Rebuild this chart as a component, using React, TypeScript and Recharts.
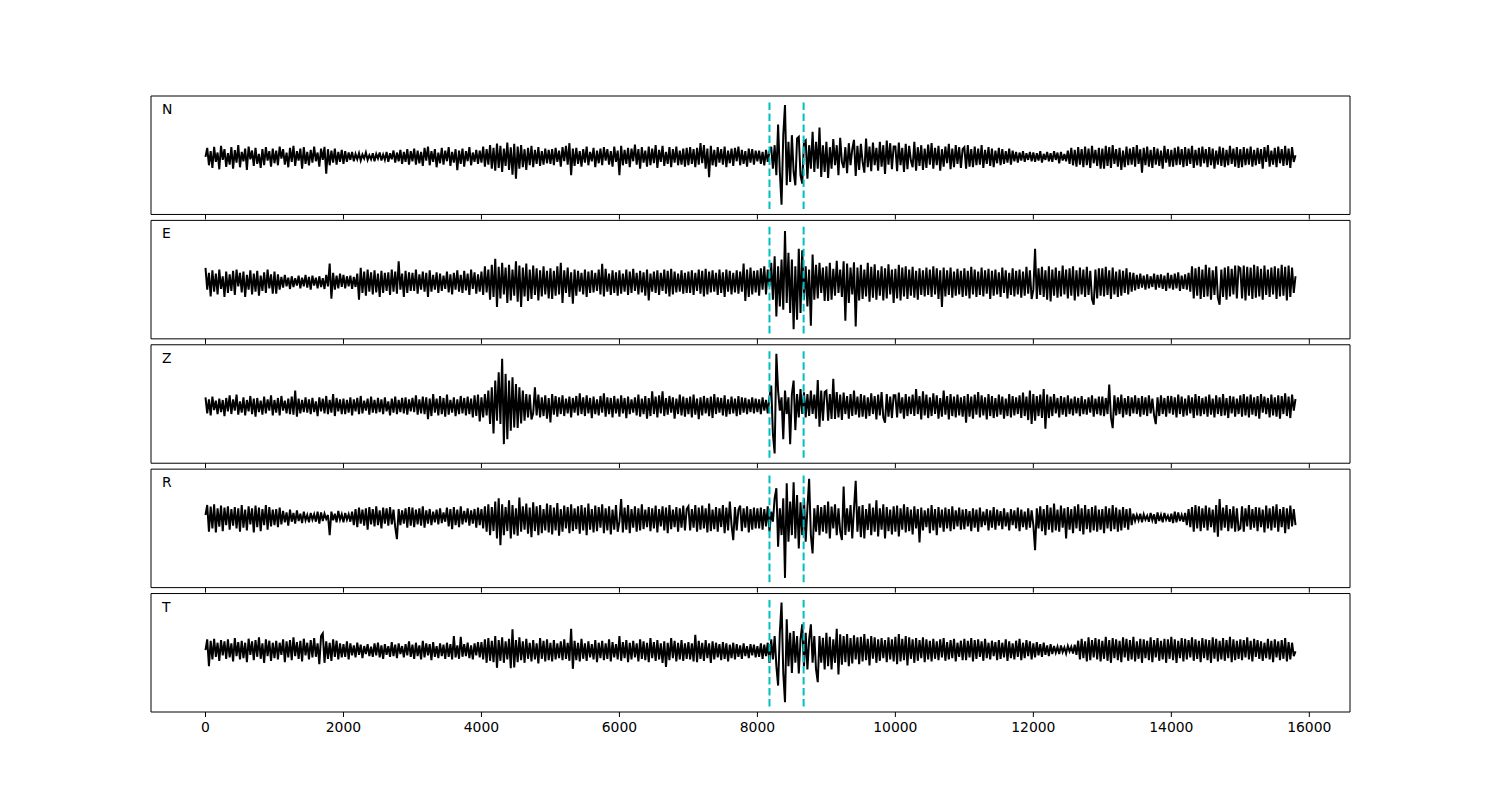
import React from 'react';
import { LineChart, Line, XAxis, YAxis, ReferenceLine, ReferenceArea } from 'recharts';

// sample spacing of the traces (time axis units)
const SAMPLE_STEP = 25;

const N_TRACE = [
  -5, 22, -30, 12, -38, 25, -20, 8, -42, 28, -14, 18, -35, 6, -28, 24, -40, 15, -22, 30, -36, 10, -18, 20, -44, 26, -12, 14, -32, 22, -26, 4, -38, 18, -30, 24, -16, 12, -34, 20,
  -24, 14, -30, 26, -10, 18, -28, 8, -36, 22, -20, 28, -32, 12, -16, 20, -40, 24, -26, 10, -30, 16, -22, 26, -18, 8, -34, 20, -14, 25, -55, 18, -30, 14, -22, 20, -28, 10, -20, 16,
  -26, 12, -20, 8, -14, 10, -18, 4, -12, 6, -16, 2, -10, 8, -14, 0, -12, 6, -18, 4, -10, 8, -16, 2, -14, 10, -20, 6, -12, 14, -22, 8, -18, 16, -26, 10, -20, 18, -28, 12,
  -18, 20, -28, 14, -24, 10, -32, 22, -16, 26, -30, 12, -20, 18, -36, 8, -24, 22, -28, 14, -18, 24, -32, 10, -22, 18, -45, 14, -26, 20, -34, 12, -18, 24, -30, 8, -20, 16, -26, 14,
  -22, 26, -34, 18, -28, 30, -40, 22, -46, 35, -38, 28, -50, 20, -32, 38, -44, 24, -58, 34, -70, 26, -40, 30, -36, 18, -44, 22, -30, 28, -36, 16, -26, 24, -32, 12, -28, 20, -24, 16,
  -26, 18, -30, 22, -20, 14, -34, 24, -18, 28, -28, 36, -60, 20, -32, 22, -26, 12, -34, 18, -22, 26, -30, 10, -18, 22, -36, 14, -24, 20, -30, 24, -16, 18, -28, 12, -34, 26, -20, 14,
  -60, 28, -30, 16, -26, 22, -36, 20, -18, 32, -28, 18, -40, 24, -22, 14, -34, 26, -30, 20, -24, 30, -38, 16, -20, 28, -32, 10, -26, 24, -36, 18, -22, 26, -30, 14, -28, 20, -34, 22,
  -30, 24, -26, 18, -36, 22, -28, 36, -24, 30, -40, 20, -66, 28, -30, 16, -34, 24, -22, 18, -28, 26, -36, 14, -24, 20, -32, 22, -18, 26, -30, 16, -26, 12, -34, 20, -22, 18, -28, 14,
  -18, 14, -26, 10, -30, 16, -20, 12, 25, -40, 30, -60, 92, -50, -148, 60, 150, -90, 40, -80, 60, -50, -90, 50, 55, -60, -85, 40, 45, -70, 30, -40, 70, -50, 40, -40, 83, -65, 30, -50,
  40, -68, 24, -40, 48, -30, 30, -60, 52, -20, -38, 24, -54, 36, -30, 18, 46, -62, 28, -44, 34, -20, -52, 50, -36, 26, -48, 38, -30, 22, -46, 40, -34, 30, -56, 44, -28, 36, -42, 26,
  26, -48, 38, -30, 22, -50, 34, -42, 28, -16, -36, 40, -46, 24, -32, 30, -44, 20, -38, 32, -28, 36, -40, 22, -30, 28, -46, 18, -34, 26, -24, 34, -42, 20, -36, 30, -26, 24, -38, 18,
  24, -40, 30, -34, 18, -36, 26, -30, 20, -28, 30, -38, 16, -26, 24, -32, 20, -36, 14, -24, 22, -30, 18, -26, 12, -22, 20, -28, 14, -18, 10, -22, 8, -16, 12, -20, 6, -14, 10, -18,
  8, -20, 6, -16, 12, -22, 4, -14, 10, -18, 6, -20, 12, -14, 8, -24, 10, -16, 4, -18, 14, -26, 22, -30, 16, -34, 24, -28, 18, -36, 26, -30, 20, -38, 28, -24, 16, -32, 22, -40,
  20, -40, 28, -32, 24, -38, 30, -26, 18, -34, 22, -44, 14, -36, 26, -30, 20, -28, 24, -34, 30, -26, 18, -52, 22, -30, 26, -34, 16, -38, 24, -28, 20, -32, 14, -40, 28, -22, 18, -34,
  16, -34, 22, -30, 26, -28, 18, -36, 24, -32, 20, -26, 28, -38, 16, -30, 22, -34, 26, -24, 18, -36, 24, -30, 20, -40, 14, -28, 26, -32, 22, -36, 16, -30, 28, -26, 20, -34, 24, -38,
  18, -36, 24, -30, 20, -28, 26, -34, 16, -30, 22, -26, 18, -40, 24, -20, 30, -34, 14, -28, 22, -36, 26, -24, 18, -32, 28, -30, 20, -38, 24, -20, 0,
];

const E_TRACE = [
  35, -30, 20, -50, 28, -36, 18, -44, 30, -28, 10, -52, 24, -40, 16, -34, 26, -46, 30, -20, 20, -38, 24, -52, 14, -30, 28, -44, 18, -36, 26, -48, 12, -34, 22, -40, 30, -26, 16, -42,
  24, -42, 16, -30, 8, -24, 14, -20, 6, -28, 10, -22, 4, -18, 12, -26, 6, -20, 14, -24, 8, -30, 12, -18, 6, -26, 10, -22, 4, -28, 14, -20, 48, -57, 20, -30, 12, -26, 18, -22,
  14, -26, 10, -20, 12, -28, 8, -22, 18, -60, 35, -40, 24, -48, 30, -36, 22, -44, 28, -38, 18, -52, 26, -40, 20, -34, 22, -46, 30, -36, 24, -42, 55, -30, 18, -52, 26, -40, 22, -34,
  20, -34, 30, -42, 16, -30, 24, -36, 20, -52, 28, -36, 14, -30, 22, -40, 18, -34, 12, -28, 24, -38, 16, -44, 20, -30, 28, -36, 14, -40, 26, -32, 18, -46, 30, -28, 22, -42, 16, -36,
  24, -46, 40, -38, 30, -60, 44, -52, 62, -82, 38, -56, 50, -44, 36, -70, 44, -62, 30, -48, 55, -66, 42, -82, 36, -50, 48, -64, 30, -58, 42, -46, 34, -62, 28, -50, 40, -44, 26, -56,
  34, -58, 26, -48, 40, -44, 50, -70, 28, -40, 36, -52, 22, -72, 30, -48, 26, -36, 20, -44, 30, -52, 24, -40, 28, -38, 20, -34, 30, -44, 47, -50, 32, -36, 18, -46, 28, -40, 22, -48,
  28, -42, 18, -36, 30, -46, 24, -40, 32, -34, 20, -44, 26, -38, 22, -48, 30, -62, 18, -36, 24, -40, 28, -46, 20, -34, 30, -42, 26, -50, 32, -44, 24, -38, 18, -36, 28, -42, 20, -40,
  24, -40, 28, -46, 20, -34, 30, -42, 26, -50, 32, -44, 24, -38, 28, -36, 20, -46, 30, -40, 22, -52, 30, -36, 26, -44, 20, -38, 28, -42, 24, -36, 48, -64, 30, -52, 36, -44, 26, -38,
  28, -48, 34, -30, 40, -44, 30, -20, 50, -60, 70, -110, 40, -80, 60, -90, 145, -70, 80, -100, 60, -148, 40, -120, 92, -100, 88, -60, 40, -80, 30, -138, 75, -60, 44, -56, 50, -40, 36, -64,
  40, -64, 50, -60, 32, -48, 56, -40, 30, -52, 55, -123, 48, -70, 36, -44, 52, -140, 36, -62, 44, -58, 30, -50, 50, -66, 38, -54, 46, -60, 28, -48, 40, -62, 34, -56, 46, -44, 30, -70,
  32, -56, 44, -62, 36, -50, 40, -58, 30, -48, 38, -54, 26, -60, 34, -46, 28, -50, 36, -46, 30, -52, 40, -44, 34, -58, 28, -82, 36, -50, 28, -46, 36, -54, 24, -48, 32, -44, 26, -52,
  34, -48, 26, -56, 38, -44, 30, -52, 24, -46, 36, -50, 28, -42, 32, -58, 26, -48, 30, -44, 22, -52, 36, -40, 28, -56, 20, -46, 34, -50, 26, -44, 30, -54, 24, -48, 38, -42, 28, -58,
  -30, 92, -58, 34, -46, 38, -52, 28, -60, 40, -65, 30, -48, 36, -54, 26, -50, 42, -44, 30, -56, 34, -48, 40, -62, 28, -50, 36, -44, 30, -52, 38, -46, 26, -58, -75, 30, -56, 34, -48,
  34, -50, 38, -46, 28, -58, 36, -44, 24, -52, 30, -48, 26, -40, 34, -44, 22, -36, 20, -32, 14, -28, 18, -24, 12, -30, 16, -26, 10, -22, 18, -30, 14, -24, 16, -28, 12, -34, 20, -26,
  14, -30, 18, -26, 22, -34, 12, -28, 16, -30, 20, -36, 40, -56, 34, -48, 38, -58, 30, -52, 44, -50, 36, -60, 28, -46, 40, -54, -75, 30, -52, 36, -60, 40, -50, 32, -44, 42, -56, 38,
  34, -56, 42, -62, 38, -48, 36, -58, 44, -54, 40, -50, 32, -60, 42, -46, 30, -52, 36, -44, 40, -58, 34, -50, 44, -48, 38, -62, 42, -52, 36, -40, 10,
];

const Z_TRACE = [
  20, -28, 14, -34, 22, -18, 10, -30, 16, -24, 12, -36, 18, -22, 26, -30, 14, -20, 28, -32, 8, -26, 20, -34, 12, -22, 24, -30, 16, -38, 18, -24, 10, -32, 22, -28, 14, -20, 26, -34,
  12, -26, 18, -34, 24, -20, 10, -28, 16, -30, 22, -32, 40, -38, 16, -28, 12, -24, 20, -26, 14, -30, 18, -24, 8, -36, 20, -22, 16, -28, 24, -30, 12, -26, 30, -36, 18, -22, 14, -30,
  16, -30, 12, -26, 20, -34, 14, -22, 18, -30, 24, -28, 10, -20, 16, -32, 22, -26, 12, -28, 18, -24, 14, -30, 20, -22, 8, -34, 16, -26, 22, -30, 12, -24, 18, -28, 20, -32, 14, -22,
  18, -24, 26, -32, 14, -28, 22, -30, 20, -45, 16, -36, 30, -26, 16, -34, 24, -30, 18, -38, 28, -32, 12, -26, 20, -36, 14, -30, 24, -28, 18, -34, 22, -30, 16, -40, 26, -36, 28, -52,
  20, -40, 30, -34, 40, -60, 50, -88, 70, -50, 95, -60, 135, -120, 90, -105, 70, -80, 80, -70, 60, -72, 50, -58, 40, -50, 30, -40, 28, -46, -28, 50, -34, 28, -40, 20, -36, 26, -44, 18,
  -55, 30, -32, 24, -38, 20, -30, 26, -36, 16, -28, 22, -40, 18, -26, 24, -34, 32, -30, 20, -36, 26, -28, 18, -42, 22, -30, 14, -34, 24, -26, 32, -38, 20, -30, 18, -40, 24, -28, 16,
  -38, 26, -28, 18, -42, 22, -30, 14, -26, 20, -34, 28, -38, 16, -30, 24, -44, 18, -36, 38, -30, 22, -40, 26, -28, 38, -36, 18, -32, 24, -26, 20, -44, 16, -30, 28, -34, 22, -38, 18,
  -30, 22, -40, 28, -32, 16, -45, 20, -34, 24, -28, 18, -36, 22, -42, 30, -30, 20, -26, 18, -34, 26, -38, 14, -30, 22, -28, 16, -36, 24, -32, 20, -26, 18, -30, 14, -24, 20, -28, 16,
  -24, 14, -30, 20, -20, 12, -28, 20, 55, -90, -148, 150, 40, -20, 20, -105, 40, -30, 20, -120, 30, 70, -78, 30, -40, 45, -30, 35, -40, 30, -36, 40, -30, 28, -44, 72, -68, 40, -50, 36,
  40, -50, 30, -45, 75, -45, 36, -40, 28, -48, 34, -30, 24, -44, 30, -36, 40, -32, 22, -40, 30, -38, 26, -44, 20, -36, 32, -30, 24, -46, 28, -34, 36, -40, -56, 30, -38, 22, -42, 26,
  26, -40, 34, -28, 20, -44, 30, -36, 22, -30, 28, -36, 45, -30, 24, -46, 38, -34, 28, -42, 20, -36, 32, -30, 26, -44, 18, -38, 40, -32, 24, -46, 30, -36, 22, -40, 28, -34, 20, -38,
  24, -56, 30, -38, 22, -44, 28, -32, 36, -40, 26, -34, 20, -46, 30, -36, 24, -42, 18, -38, 28, -32, 22, -44, 16, -36, 30, -40, 24, -34, 20, -30, 26, -42, 34, -36, 22, -48, 40, -60,
  30, -50, 24, -36, 28, -42, 45, -74, 28, -42, 22, -36, 30, -28, 18, -40, 24, -32, 20, -38, 26, -30, 16, -34, 22, -28, 18, -36, 24, -30, 14, -32, 20, -26, 26, -38, 16, -30, 22, -34,
  22, -36, 18, -30, 58, -40, -72, 26, -34, 20, -30, 28, -40, 18, -32, 24, -36, 20, -28, 26, -30, 18, -38, 24, -32, 20, -36, 26, -28, 16, -34, -60, 20, -36, 26, -30, 18, -38, 24, -28,
  24, -32, 20, -40, 28, -30, 22, -38, 16, -34, 26, -28, 20, -42, 30, -34, 24, -36, 18, -30, 22, -38, 28, -32, 16, -40, 26, -30, 20, -36, 30, -34, 18, -42, 24, -28, 22, -38, 16, -30,
  26, -38, 30, -34, 22, -40, 28, -32, 20, -36, 24, -44, 30, -26, 22, -30, 18, -40, 28, -34, 20, -38, 26, -44, 24, -30, 32, -36, 22, -42, 28, -20, 15,
];

const R_TRACE = [
  40, 70, -10, 65, 0, 72, -12, 60, 5, 68, -8, 62, 10, 66, -4, 58, 8, 64, 0, 60, -10, 70, 2, 56, -6, 66, 12, 60, -12, 68, 4, 62, -8, 58, 10, 70, -4, 64, 6, 56,
  10, 58, 4, 62, 12, 52, 18, 48, 8, 56, 20, 46, 14, 54, 22, 44, 16, 50, 24, 40, 18, 46, 26, 42, 20, 50, 14, 48, 22, 44, 28, 40, -20, 50, 24, 44, 18, 52, 26, 42,
  18, 46, 26, 42, 20, 50, 10, 58, 4, 62, 14, 56, 8, 60, -4, 64, 12, 58, 6, 66, 10, 54, 0, 62, 14, 60, 8, 64, 12, 56, 4, -32, 58, 10, 54, 14, 60, 2, 64, 8,
  62, 4, 56, 12, 60, 8, 66, 2, 54, 14, 58, 10, 50, 18, 56, 12, 60, 16, 48, 20, 62, 6, 58, -2, 64, 10, 56, 4, 66, 12, 52, 18, 60, 8, 54, 14, 58, 2, 62, 10,
  58, 0, 66, -10, 72, -20, 64, -8, 80, -30, 90, -50, 72, -20, 64, -8, 84, -30, 70, -18, 60, -22, 92, -10, 66, -4, 74, -16, 62, -26, 78, -8, 66, -20, 70, -14, 58, -6, 74, -12,
  70, -18, 62, -6, 76, -22, 58, -10, 68, 0, 64, -14, 72, -8, 60, -2, 66, -16, 70, -6, 62, -20, 74, -4, 58, -12, 68, -8, 64, 2, 72, -14, 60, -6, 66, -18, 56, -4, 70, -10,
  20, 88, -12, 62, -4, 70, -14, 58, 2, 66, -10, 60, -6, 72, -2, 56, 4, 64, -8, 60, 0, 68, -12, 58, 6, 66, -6, 62, -14, 70, -2, 56, 4, 64, -10, 60, 2, 68, -6, 58,
  66, -6, 58, 2, 70, -10, 62, -4, 68, 0, 60, -12, 74, -8, 56, -2, 64, -10, 60, 4, 70, -14, 62, -6, 80, 10, -35, 64, -6, 56, 68, -8, 60, 2, 66, -12, 58, -4, 62, 0,
  60, 0, 62, -4, 58, 6, 66, -10, 50, 20, 90, 120, -55, 60, -20, 90, -148, 135, -40, 80, -20, 138, -30, 100, -60, 78, -20, 90, -40, 60, 148, -20, -75, 60, -10, 70, -20, 64, -10, 70,
  -15, 80, -30, 65, 0, 72, -20, 60, -10, -35, 125, -20, 60, -10, 70, -30, 58, 142, -10, 66, -26, 70, -30, 58, -5, 74, -20, 62, -10, 84, -24, 60, -4, 72, -30, 64, -8, 56, -18, 66,
  -10, 68, -24, 60, -4, 72, -12, 64, -8, 56, -18, 66, 0, 58, -42, 62, -6, 54, 4, 60, -14, 70, -6, 58, -20, 64, 2, 56, -10, 62, 0, 58, -8, 66, -2, 54, 6, 62, -4, 56,
  -2, 58, 6, 52, -8, 60, 2, 56, -10, 62, 4, 50, 10, 58, -6, 54, 2, 64, -4, 56, 8, 52, -2, 60, 6, 48, -6, 58, 10, 54, 0, 62, -8, 56, 4, 50, -4, 60, 2, 54,
  10, -65, 60, 0, 66, -8, 58, -20, 70, -4, 62, -12, 74, -6, 56, -10, 68, 2, 60, -30, 64, -4, 58, -14, 66, 0, 72, -8, 60, -18, 70, -2, 58, -12, 64, -6, 68, -10, 56, -4,
  58, -14, 66, 0, 60, -8, 70, -2, 62, -10, 56, -6, 64, 2, 58, -4, 60, 10, 44, 22, 40, 24, 44, 18, 42, 26, 38, 20, 46, 24, 42, 14, 48, 22, 40, 18, 46, 26, 38, 20,
  44, 16, 50, 18, 48, 22, 40, 20, 46, 10, 58, 4, 64, -10, 70, 0, 66, -8, 60, 2, 68, -6, 62, 4, 56, -12, 70, -25, 88, -6, 62, 2, 70, -8, 58, 0, 66, -10, 60, -4,
  0, 66, -10, 60, 6, 70, -4, 58, 2, 64, -8, 62, 4, 56, -12, 68, 0, 60, -6, 66, 2, 72, -10, 58, 4, 64, -14, 60, -2, 68, 6, 58, 10,
];

const T_TRACE = [
  8, 40, -40, 36, -20, 42, -12, 30, -24, 38, -8, 34, -18, 40, -14, 28, -26, 44, -10, 32, -20, 36, -16, 30, -28, 42, -6, 34, -22, 38, -12, 46, -18, 28, -30, 40, -10, 36, -24, 30,
  -16, 36, -20, 30, -6, 40, -28, 34, -14, 38, -22, 46, -10, 32, -18, 36, -26, 42, -8, 30, -20, 38, -14, 44, -12, 28, -34, 50, 58, -30, 34, -18, 30, -24, 40, -12, 36, -20, 28, -14,
  26, -12, 34, -20, 28, -8, 22, -14, 30, -6, 24, -16, 20, -4, 26, -10, 18, -12, 28, -8, 30, -14, 22, -18, 26, -6, 20, -12, 32, -10, 24, -16, 28, -4, 20, -14, 26, -8, 34, -12,
  24, -18, 30, -10, 22, -20, 36, -14, 28, -8, 26, -22, 32, -12, 20, -16, 28, -10, 24, -18, 30, -12, 26, -20, 50, -14, 22, -18, 48, -12, 26, -10, 30, -16, 22, -20, 28, -8, 32, -14,
  32, -20, 40, -30, 44, -24, 36, -28, 50, -45, 38, -24, 46, -30, 34, -20, 42, -46, 70, -44, 38, -28, 46, -22, 34, -30, 42, -18, 30, -26, 38, -20, 28, -32, 44, -18, 36, -26, 40, -22,
  30, -26, 38, -20, 28, -16, 34, -22, 40, -18, 30, -24, 72, -48, 36, -22, 30, -26, 42, -18, 28, -24, 34, -14, 26, -20, 38, -28, 30, -16, 36, -22, 28, -18, 40, -26, 32, -14, 26, -20,
  50, -24, 32, -16, 38, -28, 30, -20, 36, -14, 28, -26, 40, -18, 34, -22, 30, -28, 44, -16, 32, -24, 38, -20, 28, -30, 34, -42, 30, -22, 44, -16, 36, -26, 30, -20, 38, -24, 28, -18,
  32, -20, 28, -26, 54, -28, 36, -18, 30, -24, 38, -16, 28, -30, 34, -20, 30, -14, 26, -22, 32, -18, 28, -26, 24, -16, 30, -20, 26, -12, 22, -18, 28, -10, 20, -16, 26, -8, 24, -14,
  20, -12, 28, -18, 24, -10, 30, -30, 40, -20, 50, -40, -98, 60, 150, -60, -148, 100, -40, 60, -60, 65, -30, 50, -62, 40, 85, -40, 60, -50, 40, 85, -30, 50, -50, -88, 50, -30, 45, -50,
  60, -40, 48, -50, 40, -30, 72, -65, 55, -36, 50, -28, 56, -40, 44, -32, 52, -20, 46, -34, 48, -26, 56, -22, 42, -38, 50, -18, 46, -30, 40, -24, 44, -16, 38, -28, 46, -20, 40, -26,
  48, -34, 56, -26, 42, -22, 50, -38, 46, -18, 40, -30, 44, -24, 38, -16, 46, -28, 40, -20, 36, -26, 42, -18, 34, -22, 40, -14, 44, -24, 32, -20, 38, -16, 42, -26, 30, -12, 36, -22,
  42, -22, 36, -14, 44, -26, 38, -18, 40, -12, 34, -24, 42, -16, 30, -20, 36, -10, 32, -22, 38, -18, 30, -14, 40, -24, 34, -16, 28, -20, 36, -12, 42, -22, 30, -16, 38, -10, 34, -20,
  28, -14, 32, -8, 26, -12, 30, -6, 22, -10, 26, -4, 20, 0, 18, -4, 22, 2, 16, -2, 20, 4, 18, -2, 24, -6, 36, -20, 42, -16, 34, -26, 46, -22, 38, -14, 44, -20, 40, -26,
  36, -18, 48, -24, 38, -30, 44, -16, 40, -22, 36, -28, 46, -14, 42, -24, 38, -20, 48, -26, 34, -18, 42, -30, 40, -16, 36, -22, 46, -28, 38, -14, 44, -24, 36, -20, 42, -30, 40, -18,
  48, -22, 40, -30, 36, -16, 44, -26, 42, -20, 38, -14, 46, -24, 40, -18, 36, -28, 44, -16, 40, -22, 38, -30, 46, -18, 42, -26, 36, -20, 44, -24, 38, -16, 48, -28, 40, -22, 36, -18,
  40, -22, 38, -14, 46, -20, 36, -26, 42, -12, 38, -18, 34, -24, 30, -16, 42, -20, 36, -28, 40, -14, 34, -22, 38, -18, 44, -26, 32, -20, 30, -10, 4,
];

const COMPONENT_NAMES = ['N', 'E', 'Z', 'R', 'T'];
const TRACES = [N_TRACE, E_TRACE, Z_TRACE, R_TRACE, T_TRACE];
const X_TICKS = [0, 2000, 4000, 6000, 8000, 10000, 12000, 14000, 16000];
const PICK_TIMES = [8175, 8670];
const PICK_SPAN = [-161, 161];
const X_DOMAIN = [-790, 16590];

// layout
const FIG_W = 1500;
const FIG_H = 800;
const PLOT_TOP = 96;
const PLOT_BOTTOM = 712;
const PLOT_LEFT = 151;
const PLOT_RIGHT = 1350;
const HSPACE = 0.05;
const AXIS_H = 30;
const FONT = '"DejaVu Sans", "Liberation Sans", sans-serif';

const rows = N_TRACE.map((_, i) => {
  const r: Record<string, number> = { t: i * SAMPLE_STEP };
  COMPONENT_NAMES.forEach((name, k) => {
    r[name] = TRACES[k][i];
  });
  return r;
});

const yPad = 0.05 * (PICK_SPAN[1] - PICK_SPAN[0]);
const Y_DOMAIN = [PICK_SPAN[0] - yPad, PICK_SPAN[1] + yPad];

function PanelLabel(props: any) {
  const vb = props.viewBox || { x: PLOT_LEFT, y: 0 };
  return (
    <text x={vb.x + 11} y={vb.y + 18} fontSize={13.9} fontFamily={FONT} fill="#000">
      {props.text}
    </text>
  );
}

export default function App() {
  const n = COMPONENT_NAMES.length;
  const panelH = (PLOT_BOTTOM - PLOT_TOP) / (n + (n - 1) * HSPACE);
  const gap = panelH * HSPACE;

  return (
    <div style={{ position: 'absolute', left: 0, top: 0, width: FIG_W, height: FIG_H, background: '#fff' }}>
      {COMPONENT_NAMES.map((name, k) => {
        const top = PLOT_TOP + k * (panelH + gap);
        const bottom = top + panelH;
        const isLast = k === n - 1;
        return (
          <div key={name} style={{ position: 'absolute', left: 0, top: 0 }}>
            <LineChart
              width={FIG_W}
              height={FIG_H}
              data={rows}
              margin={{ top, bottom: FIG_H - bottom - AXIS_H, left: PLOT_LEFT, right: FIG_W - PLOT_RIGHT }}
            >
              <XAxis
                dataKey="t"
                type="number"
                domain={X_DOMAIN}
                ticks={X_TICKS}
                interval={0}
                allowDataOverflow
                height={AXIS_H}
                axisLine={false}
                tickLine={{ stroke: '#000', strokeWidth: 1 }}
                tickSize={5}
                tickMargin={5}
                tick={{ fill: '#000', fontSize: 13.9, fontFamily: FONT }}
                tickFormatter={isLast ? (v: number) => String(v) : () => ''}
              />
              <YAxis hide type="number" domain={Y_DOMAIN} allowDataOverflow width={0} />
              <Line
                type="linear"
                dataKey={name}
                stroke="#000"
                strokeWidth={2}
                dot={false}
                activeDot={false}
                isAnimationActive={false}
              />
              {PICK_TIMES.map((pt) => (
                <ReferenceLine
                  key={pt}
                  segment={[{ x: pt, y: PICK_SPAN[0] }, { x: pt, y: PICK_SPAN[1] }]}
                  stroke="#00bfbf"
                  strokeWidth={2}
                  strokeDasharray="7.7 3.3"
                />
              ))}
              <ReferenceArea
                x1={X_DOMAIN[0]}
                x2={X_DOMAIN[1]}
                y1={Y_DOMAIN[0]}
                y2={Y_DOMAIN[1]}
                fill="none"
                fillOpacity={0}
                stroke="#000"
                strokeWidth={1}
                ifOverflow="extendDomain"
                label={<PanelLabel text={name} />}
              />
            </LineChart>
          </div>
        );
      })}
    </div>
  );
}
